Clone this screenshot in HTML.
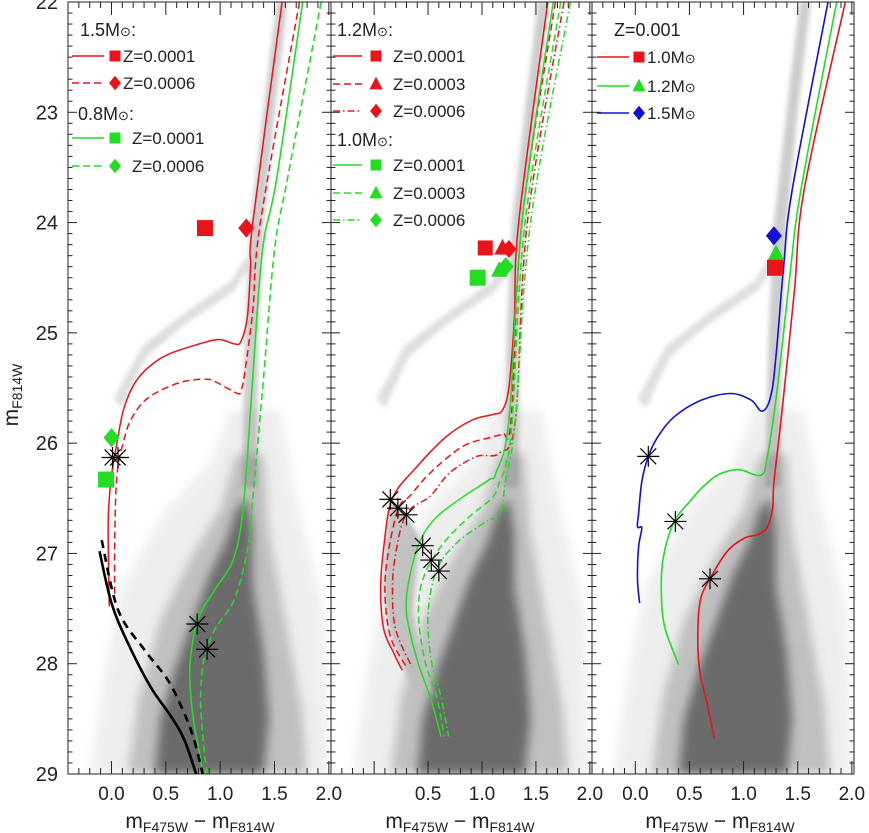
<!DOCTYPE html>
<html><head><meta charset="utf-8">
<style>
html,body{margin:0;padding:0;background:#fff;}
svg{display:block;font-family:"Liberation Sans",sans-serif;}
</style></head>
<body>
<svg id="chart" width="869" height="833" viewBox="0 0 869 833" xmlns="http://www.w3.org/2000/svg">
<defs>
<filter id="blur4" x="-20%" y="-20%" width="140%" height="140%"><feGaussianBlur stdDeviation="5"/></filter>
<filter id="blur2" x="-20%" y="-20%" width="140%" height="140%"><feGaussianBlur stdDeviation="2.5"/></filter>
<clipPath id="clip0"><rect x="68" y="2" width="263" height="772"/></clipPath>
<clipPath id="clip1"><rect x="331" y="2" width="261" height="772"/></clipPath>
<clipPath id="clip2"><rect x="592" y="2" width="262" height="772"/></clipPath>
</defs>
<g id="layer-cloud"></g>
<g id="layer-tracks"></g>
<g id="layer-marks"></g>
<g id="layer-axes"></g>
<g id="layer-legend"></g>
</svg>
<script>
// ---------- axis data ----------
const yTicks=[22,23,24,25,26,27,28,29];
const xTickValsP1=[0,0.5,1.0,1.5,2.0];
const xTickValsP2=[0.5,1.0,1.5,2.0];
const xTickValsP3=[0,0.5,1.0,1.5,2.0];
const XMIN=-0.4, XMAX=2.02, YMIN=22, YMAX=29;
const panels=[{x0:68,x1:331},{x0:331,x1:592},{x0:592,x1:854}];

// ---------- star field density regions (color, mag) ----------
const cloudHalo=[[-0.2,29],[-0.05,28],[0.1,27.3],[0.5,26.6],[0.9,26.2],[1.1,25.7],[1.55,25.7],[1.7,26.5],[1.95,27.5],[2.0,29]];
const cloudMid=[[0.15,29],[0.25,28.3],[0.45,27.6],[0.75,27.0],[1.0,26.6],[1.15,26.1],[1.4,26.1],[1.45,26.8],[1.6,27.6],[1.75,28.4],[1.8,29]];
const cloudCore=[[0.4,29],[0.45,28.5],[0.6,28.0],[0.75,27.6],[0.9,27.2],[1.05,26.9],[1.15,26.6],[1.25,26.5],[1.3,26.8],[1.3,27.3],[1.4,27.9],[1.45,28.5],[1.4,29]];
const cloudRGB=[[1.2,26.4],[1.23,25.0],[1.28,24.0],[1.42,22.8],[1.52,22.0],[1.62,22.0],[1.5,23.0],[1.4,24.0],[1.35,25.0],[1.34,26.4]];
const cloudSGB=[[0.02,25.6],[0.28,25.12],[0.66,24.83],[1.11,24.52],[1.24,24.3],[1.27,24.4],[1.13,24.62],[0.68,24.92],[0.32,25.22],[0.1,25.68]];
const shadeP2=[[0.15,26.51],[0.3,26.65],[0.42,26.85],[0.40,27.1],[0.36,27.5],[0.42,27.9],[0.55,28.3],[0.30,28.1],[0.14,27.7],[0.08,27.3],[0.1,26.9]];

// ---------- panel 1 tracks ----------
const p1Red15Z1=[[1.57,22.0],[1.30,24.0],[1.28,24.4],[1.25,24.86],[1.19,25.08],[1.13,25.1],[0.99,25.06],[0.81,25.1],[0.51,25.2],[0.32,25.33],[0.20,25.48],[0.11,25.7],[0.05,26.0],[0.0,26.3],[-0.03,26.7],[-0.02,27.48]];
const p1Red15Z6=[[1.73,22.0],[1.37,24.0],[1.30,24.8],[1.22,25.4],[1.19,25.52],[1.16,25.55],[0.97,25.45],[0.87,25.42],[0.63,25.45],[0.35,25.58],[0.20,25.75],[0.12,25.95],[0.05,26.3],[0.03,26.9],[0.03,27.45]];
const p1Green08Z1=[[1.76,22.0],[1.52,23.6],[1.39,24.25],[1.30,25.4],[1.22,26.5],[1.13,27.03],[0.95,27.33],[0.82,27.54],[0.75,27.78],[0.72,28.09],[0.75,28.48],[0.81,28.81],[0.84,29.0]];
const p1Green08Z6=[[1.93,22.0],[1.62,23.6],[1.50,24.25],[1.40,25.4],[1.30,26.5],[1.25,26.97],[1.13,27.42],[0.95,27.69],[0.85,27.97],[0.82,28.33],[0.85,28.75],[0.88,29.0]];
const p1BlackSolid=[[-0.11,26.98],[0.0,27.45],[0.15,27.81],[0.36,28.21],[0.55,28.48],[0.67,28.69],[0.78,29.0]];
const p1BlackDash=[[-0.09,26.88],[0.06,27.51],[0.30,27.87],[0.52,28.15],[0.67,28.45],[0.76,28.69],[0.84,29.0]];

// ---------- panel 2 tracks ----------
const p2Red12Z1=[[1.61,22.0],[1.34,24.0],[1.30,24.88],[1.25,25.49],[1.19,25.70],[1.10,25.74],[0.91,25.79],[0.67,25.94],[0.40,26.21],[0.17,26.5],[0.09,26.94],[0.06,27.33],[0.09,27.69],[0.18,27.9],[0.26,28.06]];
const p2Red12Z3=[[1.68,22.0],[1.37,24.0],[1.27,25.79],[1.19,25.91],[1.07,25.95],[0.82,26.03],[0.52,26.27],[0.33,26.48],[0.23,26.58],[0.14,26.94],[0.10,27.33],[0.15,27.75],[0.30,28.03]];
const p2Red12Z6=[[1.76,22.0],[1.42,24.0],[1.31,25.79],[1.16,26.09],[0.95,26.12],[0.70,26.27],[0.52,26.48],[0.30,26.64],[0.20,27.0],[0.17,27.33],[0.20,27.69],[0.35,28.03]];
const p2Green10Z1=[[1.66,22.0],[1.37,24.0],[1.25,25.79],[1.13,26.27],[1.07,26.33],[0.82,26.49],[0.58,26.67],[0.43,26.88],[0.33,27.21],[0.30,27.54],[0.40,27.97],[0.52,28.3],[0.62,28.66]];
const p2Green10Z3=[[1.73,22.0],[1.40,24.0],[1.28,25.79],[1.22,26.2],[1.17,26.33],[1.10,26.49],[0.88,26.67],[0.64,26.91],[0.46,27.21],[0.41,27.54],[0.47,27.97],[0.58,28.3],[0.65,28.66]];
const p2Green10Z6=[[1.82,22.0],[1.45,24.0],[1.31,25.79],[1.22,26.33],[1.17,26.64],[1.04,26.71],[0.76,26.91],[0.58,27.15],[0.50,27.54],[0.53,27.97],[0.62,28.3],[0.69,28.66]];

// ---------- panel 3 tracks ----------
const p3Red10=[[1.94,22.0],[1.56,23.70],[1.47,24.61],[1.36,25.67],[1.28,26.36],[1.27,26.58],[1.22,26.76],[1.13,26.83],[1.01,26.86],[0.85,26.98],[0.70,27.21],[0.61,27.39],[0.58,27.63],[0.59,28.03],[0.67,28.39],[0.73,28.68]];
const p3Green12=[[1.86,22.0],[1.53,23.70],[1.43,24.46],[1.31,25.52],[1.22,26.12],[1.16,26.29],[0.95,26.24],[0.76,26.29],[0.61,26.41],[0.52,26.51],[0.36,26.71],[0.26,27.03],[0.24,27.33],[0.27,27.66],[0.40,28.01]];
const p3Blue15=[[1.78,22.0],[1.45,23.70],[1.37,24.40],[1.30,25.21],[1.25,25.58],[1.17,25.71],[1.07,25.61],[0.88,25.55],[0.61,25.61],[0.36,25.76],[0.21,25.94],[0.12,26.12],[0.06,26.35],[0.03,26.64],[0.02,26.76],[0.06,26.77],[0.03,26.94],[0.02,27.24],[0.04,27.45]];

// ---------- markers (color, mag) ----------
const p1Markers=[[0.86,24.05],[1.24,24.05],[-0.05,26.33],[0.0,25.95]];
const p2Markers=[[1.03,24.23],[1.19,24.23],[1.25,24.24],[0.96,24.50],[1.16,24.43],[1.22,24.40]];
const p3Markers=[[1.28,24.12],[1.30,24.28],[1.29,24.41]];
const p1Stars=[[0.01,26.13],[0.06,26.13],[0.79,27.64],[0.88,27.87]];
const p2Stars=[[0.15,26.51],[0.22,26.59],[0.30,26.65],[0.45,26.93],[0.53,27.06],[0.60,27.16]];
const p3Stars=[[0.12,26.12],[0.37,26.71],[0.69,27.23]];

const RED="#e8141a", GREEN="#22dd22", BLUE="#1010d8";
const NS="http://www.w3.org/2000/svg";
function xs(p,c){const P=panels[p];return P.x0+(c-XMIN)/(XMAX-XMIN)*(P.x1-P.x0);}
function ys(m){return 2+(m-YMIN)/(YMAX-YMIN)*772;}
function mk(tag,attrs,parent){const e=document.createElementNS(NS,tag);for(const k in attrs)e.setAttribute(k,attrs[k]);parent.appendChild(e);return e;}
function smoothPath(pts){
  if(pts.length<2)return "";
  let d="M"+pts[0][0].toFixed(1)+","+pts[0][1].toFixed(1);
  for(let i=0;i<pts.length-1;i++){
    const p0=pts[i-1]||pts[i],p1=pts[i],p2=pts[i+1],p3=pts[i+2]||p2;
    const c1=[p1[0]+(p2[0]-p0[0])/6,p1[1]+(p2[1]-p0[1])/6];
    const c2=[p2[0]-(p3[0]-p1[0])/6,p2[1]-(p3[1]-p1[1])/6];
    d+="C"+c1[0].toFixed(1)+","+c1[1].toFixed(1)+" "+c2[0].toFixed(1)+","+c2[1].toFixed(1)+" "+p2[0].toFixed(1)+","+p2[1].toFixed(1);
  }
  return d;
}
const cloudL=document.getElementById('layer-cloud');
const trackL=document.getElementById('layer-tracks');
const markL=document.getElementById('layer-marks');
const axL=document.getElementById('layer-axes');
const legL=document.getElementById('layer-legend');

// clouds
const clouds=[{d:cloudHalo,fill:"#8a8a8a",op:0.14,f:"blur4",n:"star-halo"},{d:cloudMid,fill:"#7a7a7a",op:0.4,f:"blur4",n:"main-sequence-outer"},{d:cloudCore,fill:"#626262",op:0.9,f:"blur4",n:"main-sequence-core"},{d:cloudRGB,fill:"#7a7a7a",op:0.38,f:"blur2",n:"red-giant-branch-stars"},{d:cloudSGB,fill:"#9a9a9a",op:0.32,f:"blur2",n:"subgiant-branch-stars"}];
for(let p=0;p<3;p++){
  const g=mk('g',{'clip-path':'url(#clip'+p+')'},cloudL);
  
  
  for(const c of clouds){
    const pts=c.d.map(q=>xs(p,q[0]).toFixed(1)+","+ys(q[1]).toFixed(1)).join(" ");
    const e=mk('polygon',{points:pts,fill:c.fill,'fill-opacity':c.op,filter:'url(#'+c.f+')'},g);
    
    
  }
  if(p===1){
    const pts=shadeP2.map(q=>xs(p,q[0]).toFixed(1)+","+ys(q[1]).toFixed(1)).join(" ");
    const e=mk('polygon',{points:pts,fill:"#bcbcbc",'fill-opacity':0.9,filter:'url(#blur2)'},g);
    
    
  }
}

// tracks
const DASH="7,4", DASHDOT="7,3,1.5,3";
const tracks=[
 {p:0,d:p1Red15Z1,c:RED,w:1.5,da:"",n:"track-1.5msun-z0.0001"},
 {p:0,d:p1Red15Z6,c:RED,w:1.5,da:DASH,n:"track-1.5msun-z0.0006"},
 {p:0,d:p1Green08Z1,c:GREEN,w:1.6,da:"",n:"track-0.8msun-z0.0001"},
 {p:0,d:p1Green08Z6,c:GREEN,w:1.6,da:DASH,n:"track-0.8msun-z0.0006"},
 {p:0,d:p1BlackSolid,c:"#000",w:2.6,da:"",n:"black-track-solid"},
 {p:0,d:p1BlackDash,c:"#000",w:2.6,da:"8,6",n:"black-track-dashed"},
 {p:1,d:p2Red12Z1,c:RED,w:1.5,da:"",n:"track-1.2msun-z0.0001"},
 {p:1,d:p2Red12Z3,c:RED,w:1.5,da:DASH,n:"track-1.2msun-z0.0003"},
 {p:1,d:p2Red12Z6,c:RED,w:1.5,da:DASHDOT,n:"track-1.2msun-z0.0006"},
 {p:1,d:p2Green10Z1,c:GREEN,w:1.5,da:"",n:"track-1.0msun-z0.0001"},
 {p:1,d:p2Green10Z3,c:GREEN,w:1.5,da:DASH,n:"track-1.0msun-z0.0003"},
 {p:1,d:p2Green10Z6,c:GREEN,w:1.5,da:DASHDOT,n:"track-1.0msun-z0.0006"},
 {p:2,d:p3Red10,c:RED,w:1.6,da:"",n:"track-1.0msun-z0.001"},
 {p:2,d:p3Green12,c:GREEN,w:1.6,da:"",n:"track-1.2msun-z0.001"},
 {p:2,d:p3Blue15,c:BLUE,w:1.6,da:"",n:"track-1.5msun-z0.001"}
];
for(const t of tracks){
  const g=mk('g',{'clip-path':'url(#clip'+t.p+')'},trackL);
  const e=mk('path',{d:smoothPath(t.d.map(q=>[xs(t.p,q[0]),ys(q[1])])),fill:'none',stroke:t.c,'stroke-width':t.w,'stroke-dasharray':t.da},g);
  
  
}

// marker shapes
function shape(kind,x,y,s,col,parent,name){
  let e;
  if(kind==='sq')e=mk('rect',{x:x-s/2,y:y-s/2,width:s,height:s,fill:col},parent);
  else if(kind==='tri')e=mk('polygon',{points:`${x},${y-s*0.6} ${x+s*0.55},${y+s*0.45} ${x-s*0.55},${y+s*0.45}`,fill:col},parent);
  else e=mk('polygon',{points:`${x},${y-s*0.6} ${x+s*0.5},${y} ${x},${y+s*0.6} ${x-s*0.5},${y}`,fill:col},parent);
  
  
  return e;
}
const p1Kinds=[['sq',RED,16],['dia',RED,16],['sq',GREEN,16],['dia',GREEN,16]];
const p2Kinds=[['sq',RED,15],['tri',RED,15],['dia',RED,15],['sq',GREEN,16],['tri',GREEN,15],['dia',GREEN,16]];
const p3Kinds=[['dia',BLUE,16],['tri',GREEN,15],['sq',RED,16]];
[[p1Markers,p1Kinds,0],[p2Markers,p2Kinds,1],[p3Markers,p3Kinds,2]].forEach(([arr,kinds,p])=>{
  arr.forEach((q,i)=>shape(kinds[i][0],xs(p,q[0]),ys(q[1]),kinds[i][2],kinds[i][1],markL,'marker-panel'+(p+1)+'-'+i));
});
function asterisk(x,y,parent,name){
  const g=mk('g',{stroke:'#000','stroke-width':1.2},parent);
  
  
  const r=11;
  [[r,0],[0,r*0.95],[r*0.72,r*0.72],[r*0.72,-r*0.72]].forEach(v=>mk('line',{x1:x-v[0],y1:y-v[1],x2:x+v[0],y2:y+v[1]},g));
}
[[p1Stars,0],[p2Stars,1],[p3Stars,2]].forEach(([arr,p])=>arr.forEach((q,i)=>asterisk(xs(p,q[0]),ys(q[1]),markL,'asterisk-panel'+(p+1)+'-'+i)));

// axes
const TOP=2,BOT=774;
for(let p=0;p<3;p++){
  const P=panels[p];
  const g=mk('g',{stroke:'#222','stroke-width':1,fill:'none'},axL);
  
  
  mk('rect',{x:P.x0,y:TOP,width:P.x1-P.x0,height:BOT-TOP},g);
  for(let m=220;m<=290;m++){
    const y=ys(m/10), major=m%10===0, L=major?9:4.5;
    mk('line',{x1:P.x0,y1:y,x2:P.x0+L,y2:y},g);
    mk('line',{x1:P.x1,y1:y,x2:P.x1-L,y2:y},g);
  }
  for(let c=-4;c<=20;c++){
    const x=xs(p,c/10); if(x<P.x0+1||x>P.x1-1)continue;
    const major=c%5===0, L=major?13:6;
    mk('line',{x1:x,y1:BOT,x2:x,y2:BOT-L},g);
    mk('line',{x1:x,y1:TOP,x2:x,y2:TOP+L},g);
  }
}
yTicks.forEach(v=>{
  const t=mk('text',{x:58,y:ys(v)+7,'text-anchor':'end','font-size':20,fill:'#222'},axL);
  t.textContent=String(v);
  
  
});
[[xTickValsP1,0],[xTickValsP2,1],[xTickValsP3,2]].forEach(([vals,p])=>vals.forEach(v=>{
  const t=mk('text',{x:xs(p,v),y:800,'text-anchor':'middle','font-size':19,fill:'#222'},axL);
  t.textContent=v.toFixed(1);
  
  
}));
const xTitleCenters=[200,460,720];
xTitleCenters.forEach((cx,i)=>{
  const t=mk('text',{x:cx,y:828,'text-anchor':'middle','font-size':21,fill:'#222'},axL);
  t.innerHTML='m<tspan font-size="14" dy="4">F475W</tspan><tspan dy="-4"> − m</tspan><tspan font-size="14" dy="4">F814W</tspan>';
  
  
});
const yt=mk('text',{x:0,y:0,'text-anchor':'middle','font-size':21,fill:'#222',transform:'translate(18,395) rotate(-90)'},axL);
yt.innerHTML='m<tspan font-size="14" dy="4">F814W</tspan>';



// legends
function legText(x,y,s,size,name){const t=mk('text',{x:x,y:y,'font-size':size,fill:'#222'},legL);t.innerHTML=s;return t;}
function legRow(x1,x2,y,col,da,kind,mx,tx,label,name){
  const g=mk('g',{},legL);
  
  
  mk('line',{x1:x1,y1:y,x2:x2,y2:y,stroke:col,'stroke-width':1.6,'stroke-dasharray':da},g);
  shape(kind,mx,y,kind==='sq'?11:12,col,g,name+'-symbol');
  const t=mk('text',{x:tx,y:y+6,'font-size':17,fill:'#222'},g);
  t.innerHTML=label;
}
const MSUN='M<tspan font-size="13">⊙</tspan>';
legText(80,36,'1.5'+MSUN+':',18,'legend-title-1.5msun');
legRow(72,104,56,RED,"",'sq',115,123,'Z=0.0001','legend-1.5msun-z0.0001');
legRow(72,104,83,RED,DASH,'dia',115,123,'Z=0.0006','legend-1.5msun-z0.0006');
legText(78,120,'0.8'+MSUN+':',18,'legend-title-0.8msun');
legRow(72,104,138,GREEN,"",'sq',115,132,'Z=0.0001','legend-0.8msun-z0.0001');
legRow(72,104,166,GREEN,DASH,'dia',115,132,'Z=0.0006','legend-0.8msun-z0.0006');
legText(337,36,'1.2'+MSUN+':',18,'legend-title-1.2msun');
legRow(333,362,56,RED,"",'sq',376,393,'Z=0.0001','legend-1.2msun-z0.0001');
legRow(333,362,84,RED,DASH,'tri',376,393,'Z=0.0003','legend-1.2msun-z0.0003');
legRow(333,362,111,RED,DASHDOT,'dia',376,393,'Z=0.0006','legend-1.2msun-z0.0006');
legText(337,146,'1.0'+MSUN+':',18,'legend-title-1.0msun');
legRow(333,362,165,GREEN,"",'sq',376,393,'Z=0.0001','legend-1.0msun-z0.0001');
legRow(333,362,193,GREEN,DASH,'tri',376,393,'Z=0.0003','legend-1.0msun-z0.0003');
legRow(333,362,220,GREEN,DASHDOT,'dia',376,393,'Z=0.0006','legend-1.0msun-z0.0006');
legText(614,36,'Z=0.001',18,'legend-title-z0.001');
legRow(597,629,57,RED,"",'sq',639,647,'1.0'+MSUN,'legend-1.0msun');
legRow(597,629,86,GREEN,"",'tri',639,647,'1.2'+MSUN,'legend-1.2msun');
legRow(597,629,113,BLUE,"",'dia',639,647,'1.5'+MSUN,'legend-1.5msun');
</script>
</body></html>
